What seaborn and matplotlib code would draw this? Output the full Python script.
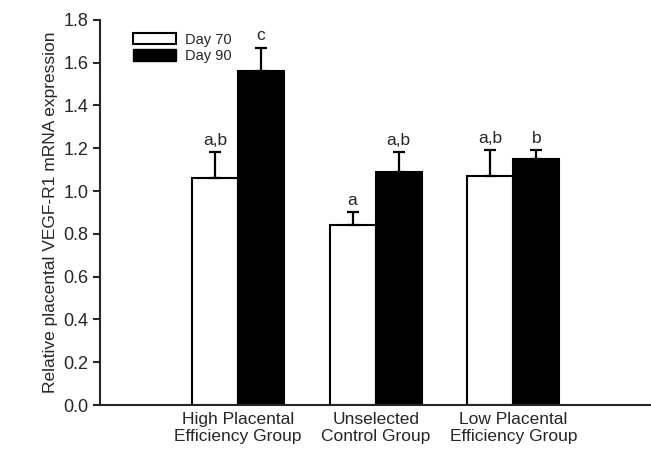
import matplotlib
matplotlib.use("Agg")
import matplotlib.pyplot as plt
import seaborn as sns
import pandas as pd
from matplotlib.patches import Patch

# data
groups = ["High Placental\nEfficiency Group", "Unselected\nControl Group", "Low Placental\nEfficiency Group"]
days = ["Day 70", "Day 90"]
day70 = [1.06, 0.84, 1.07]
day90 = [1.56, 1.09, 1.15]
err70 = [0.12, 0.06, 0.12]
err90 = [0.11, 0.09, 0.04]
letters70 = ["a,b", "a", "a,b"]
letters90 = ["c", "a,b", "b"]

df = pd.DataFrame({
    "group": groups * 2,
    "day": [days[0]] * 3 + [days[1]] * 3,
    "value": day70 + day90,
})

sns.set_style("ticks")
plt.rcParams["font.family"] = ["Liberation Sans", "DejaVu Sans"]

fig = plt.figure(figsize=(6.51, 4.5), dpi=100)
ax = fig.add_axes([0.154, 0.1, 0.846, 0.856])

sns.barplot(data=df, x="group", y="value", hue="day", order=groups, hue_order=days,
            palette=["white", "black"], edgecolor="black", linewidth=1.5,
            width=0.67, errorbar=None, legend=False, ax=ax)

# one-sided error bars and significance letters
for cont, vals, errs, labs in zip(ax.containers, [day70, day90], [err70, err90], [letters70, letters90]):
    for bar, v, e, lab in zip(cont, vals, errs, labs):
        xc = bar.get_x() + bar.get_width() / 2
        ax.errorbar(xc, v, yerr=[[0], [e]], fmt="none", ecolor="black",
                    elinewidth=1.6, capsize=4, capthick=1.6, zorder=1)
        ax.text(xc, v + e + 0.02, lab, ha="center", va="bottom", fontsize=12.5)

ax.set_xlim(-1.0, 3.0)
ax.set_ylim(0, 1.8)
ax.set_yticks([0.0, 0.2, 0.4, 0.6, 0.8, 1.0, 1.2, 1.4, 1.6, 1.8])
ax.set_yticklabels([f"{t:.1f}" for t in ax.get_yticks()], fontsize=13)
ax.tick_params(axis="x", length=0, labelsize=12.5, pad=5)
ax.tick_params(axis="y", direction="out", length=5, width=1.5)
ax.set_xlabel("")
ax.set_ylabel("Relative placental VEGF-R1 mRNA expression", fontsize=12.5, labelpad=4)
ax.spines["left"].set_linewidth(1.5)
ax.spines["bottom"].set_linewidth(1.5)
sns.despine(ax=ax)

handles = [Patch(facecolor="white", edgecolor="black", linewidth=1.5),
           Patch(facecolor="black", edgecolor="black")]
ax.legend(handles, days, loc="upper left", bbox_to_anchor=(0.035, 1.0), frameon=False,
          fontsize=10.5, handlelength=3.0, handleheight=0.8, labelspacing=0.15,
          handletextpad=0.6)

fig.savefig("out.png", dpi=100)
